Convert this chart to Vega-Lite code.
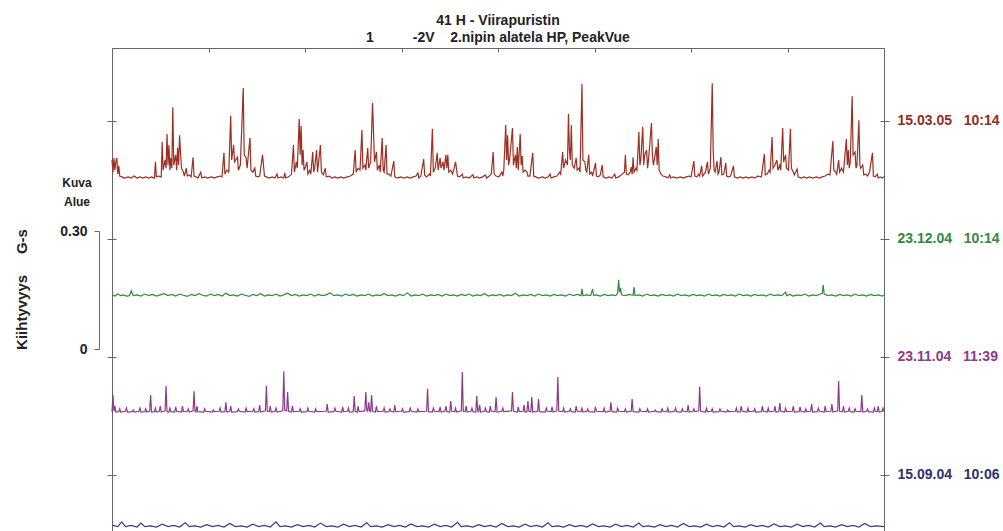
{
"$schema":"https://vega.github.io/schema/vega-lite/v6.json",
"width":772,"height":483,
"autosize":{"type":"none"},
"padding":{"left":112,"top":48,"right":119,"bottom":0},
"background":"white",
"title":{"text":"41 H - Viirapuristin","subtitle":"1\u00a0\u00a0\u00a0\u00a0\u00a0\u00a0\u00a0\u00a0\u00a0\u00a0-2V\u00a0\u00a0\u00a0\u00a02.nipin alatela HP, PeakVue","anchor":"middle","font":"Liberation Sans","fontSize":14,"fontWeight":"bold","color":"#222","subtitleFont":"Liberation Sans","subtitleFontSize":14,"subtitleFontWeight":"bold","subtitleColor":"#222","offset":3,"subtitlePadding":3},
"config":{"view":{"stroke":null},"axis":{"grid":false,"domainColor":"#666","tickColor":"#666","labelFont":"Liberation Sans","titleFont":"Liberation Sans","labelColor":"#222","titleColor":"#222"}},
"datasets":{
"dates":[{"k":0,"d":"15.09.04"},{"k":1,"d":"23.11.04"},{"k":2,"d":"23.12.04"},{"k":3,"d":"15.03.05"}],
"bar":[{"v":0},{"v":0.3}],
"red":[{"f":0,"g":0.051},{"f":1,"g":0.020},{"f":2,"g":0.056},{"f":3,"g":0.025},{"f":4,"g":0.046},{"f":5,"g":0.056},{"f":6,"g":0.015},{"f":7,"g":0.036},{"f":8,"g":0.010},{"f":10,"g":0.008},{"f":13,"g":0.005},{"f":17,"g":0.008},{"f":20,"g":0.005},{"f":23,"g":0.010},{"f":26,"g":0.005},{"f":29,"g":0.008},{"f":32,"g":0.005},{"f":35,"g":0.008},{"f":38,"g":0.005},{"f":41,"g":0.008},{"f":44,"g":0.005},{"f":45,"g":0.046},{"f":46,"g":0.008},{"f":48,"g":0.010},{"f":51,"g":0.008},{"f":52,"g":0.097},{"f":53,"g":0.025},{"f":55,"g":0.051},{"f":56,"g":0.030},{"f":57,"g":0.117},{"f":58,"g":0.038},{"f":59,"g":0.089},{"f":60,"g":0.025},{"f":61,"g":0.056},{"f":62,"g":0.030},{"f":63,"g":0.185},{"f":64,"g":0.038},{"f":66,"g":0.064},{"f":67,"g":0.025},{"f":68,"g":0.081},{"f":69,"g":0.038},{"f":70,"g":0.114},{"f":72,"g":0.030},{"f":74,"g":0.020},{"f":75,"g":0.010},{"f":77,"g":0.030},{"f":78,"g":0.010},{"f":80,"g":0.013},{"f":82,"g":0.008},{"f":84,"g":0.058},{"f":85,"g":0.010},{"f":87,"g":0.008},{"f":89,"g":0.005},{"f":92,"g":0.020},{"f":93,"g":0.005},{"f":96,"g":0.008},{"f":99,"g":0.005},{"f":103,"g":0.008},{"f":106,"g":0.005},{"f":109,"g":0.008},{"f":112,"g":0.010},{"f":114,"g":0.008},{"f":116,"g":0.069},{"f":117,"g":0.015},{"f":119,"g":0.025},{"f":121,"g":0.020},{"f":123,"g":0.163},{"f":124,"g":0.051},{"f":126,"g":0.089},{"f":127,"g":0.046},{"f":130,"g":0.058},{"f":131,"g":0.025},{"f":133,"g":0.038},{"f":136,"g":0.234},{"f":137,"g":0.064},{"f":139,"g":0.056},{"f":140,"g":0.030},{"f":143,"g":0.107},{"f":144,"g":0.025},{"f":146,"g":0.020},{"f":148,"g":0.030},{"f":149,"g":0.010},{"f":151,"g":0.008},{"f":153,"g":0.010},{"f":156,"g":0.064},{"f":158,"g":0.010},{"f":160,"g":0.008},{"f":163,"g":0.005},{"f":166,"g":0.008},{"f":169,"g":0.005},{"f":171,"g":0.015},{"f":172,"g":0.005},{"f":175,"g":0.008},{"f":178,"g":0.005},{"f":179,"g":0.018},{"f":180,"g":0.005},{"f":183,"g":0.008},{"f":186,"g":0.015},{"f":188,"g":0.089},{"f":189,"g":0.020},{"f":191,"g":0.046},{"f":192,"g":0.030},{"f":194,"g":0.155},{"f":195,"g":0.064},{"f":196,"g":0.137},{"f":197,"g":0.038},{"f":198,"g":0.076},{"f":199,"g":0.025},{"f":200,"g":0.030},{"f":202,"g":0.046},{"f":203,"g":0.015},{"f":205,"g":0.025},{"f":206,"g":0.015},{"f":208,"g":0.071},{"f":209,"g":0.020},{"f":210,"g":0.030},{"f":212,"g":0.076},{"f":213,"g":0.020},{"f":216,"g":0.089},{"f":217,"g":0.020},{"f":219,"g":0.013},{"f":221,"g":0.030},{"f":222,"g":0.008},{"f":225,"g":0.010},{"f":228,"g":0.005},{"f":231,"g":0.008},{"f":234,"g":0.005},{"f":237,"g":0.008},{"f":240,"g":0.005},{"f":244,"g":0.008},{"f":247,"g":0.010},{"f":250,"g":0.015},{"f":252,"g":0.076},{"f":253,"g":0.020},{"f":255,"g":0.030},{"f":257,"g":0.025},{"f":259,"g":0.127},{"f":260,"g":0.030},{"f":262,"g":0.038},{"f":263,"g":0.025},{"f":265,"g":0.081},{"f":266,"g":0.030},{"f":268,"g":0.046},{"f":270,"g":0.196},{"f":272,"g":0.046},{"f":274,"g":0.071},{"f":275,"g":0.025},{"f":277,"g":0.038},{"f":278,"g":0.020},{"f":280,"g":0.107},{"f":281,"g":0.025},{"f":282,"g":0.020},{"f":284,"g":0.089},{"f":285,"g":0.015},{"f":287,"g":0.015},{"f":289,"g":0.010},{"f":292,"g":0.048},{"f":293,"g":0.008},{"f":296,"g":0.005},{"f":299,"g":0.008},{"f":303,"g":0.005},{"f":306,"g":0.008},{"f":309,"g":0.005},{"f":312,"g":0.008},{"f":315,"g":0.010},{"f":317,"g":0.018},{"f":318,"g":0.005},{"f":320,"g":0.010},{"f":323,"g":0.053},{"f":324,"g":0.013},{"f":326,"g":0.008},{"f":329,"g":0.015},{"f":330,"g":0.010},{"f":332,"g":0.130},{"f":333,"g":0.020},{"f":335,"g":0.030},{"f":337,"g":0.069},{"f":338,"g":0.025},{"f":340,"g":0.056},{"f":341,"g":0.030},{"f":343,"g":0.046},{"f":344,"g":0.025},{"f":346,"g":0.064},{"f":347,"g":0.030},{"f":348,"g":0.064},{"f":349,"g":0.020},{"f":351,"g":0.025},{"f":353,"g":0.015},{"f":356,"g":0.046},{"f":358,"g":0.010},{"f":360,"g":0.008},{"f":363,"g":0.015},{"f":364,"g":0.005},{"f":367,"g":0.008},{"f":370,"g":0.005},{"f":374,"g":0.013},{"f":375,"g":0.005},{"f":378,"g":0.008},{"f":381,"g":0.005},{"f":384,"g":0.008},{"f":387,"g":0.013},{"f":388,"g":0.005},{"f":391,"g":0.010},{"f":393,"g":0.015},{"f":395,"g":0.071},{"f":396,"g":0.015},{"f":398,"g":0.010},{"f":401,"g":0.008},{"f":404,"g":0.020},{"f":405,"g":0.010},{"f":406,"g":0.025},{"f":408,"g":0.140},{"f":409,"g":0.051},{"f":410,"g":0.114},{"f":411,"g":0.038},{"f":412,"g":0.051},{"f":415,"g":0.132},{"f":416,"g":0.038},{"f":418,"g":0.064},{"f":419,"g":0.030},{"f":420,"g":0.084},{"f":421,"g":0.025},{"f":423,"g":0.117},{"f":424,"g":0.038},{"f":425,"g":0.061},{"f":426,"g":0.020},{"f":428,"g":0.025},{"f":430,"g":0.020},{"f":431,"g":0.010},{"f":433,"g":0.010},{"f":436,"g":0.069},{"f":437,"g":0.010},{"f":439,"g":0.008},{"f":442,"g":0.005},{"f":446,"g":0.008},{"f":449,"g":0.005},{"f":452,"g":0.008},{"f":454,"g":0.015},{"f":455,"g":0.005},{"f":458,"g":0.008},{"f":461,"g":0.010},{"f":464,"g":0.020},{"f":465,"g":0.015},{"f":467,"g":0.071},{"f":468,"g":0.030},{"f":470,"g":0.051},{"f":472,"g":0.038},{"f":473,"g":0.168},{"f":474,"g":0.076},{"f":475,"g":0.051},{"f":476,"g":0.140},{"f":477,"g":0.038},{"f":479,"g":0.030},{"f":481,"g":0.056},{"f":482,"g":0.025},{"f":484,"g":0.030},{"f":485,"g":0.020},{"f":487,"g":0.244},{"f":488,"g":0.051},{"f":490,"g":0.046},{"f":491,"g":0.025},{"f":492,"g":0.020},{"f":494,"g":0.064},{"f":495,"g":0.015},{"f":497,"g":0.020},{"f":498,"g":0.010},{"f":501,"g":0.043},{"f":502,"g":0.010},{"f":504,"g":0.008},{"f":506,"g":0.013},{"f":508,"g":0.038},{"f":509,"g":0.008},{"f":512,"g":0.005},{"f":515,"g":0.008},{"f":518,"g":0.005},{"f":521,"g":0.015},{"f":522,"g":0.005},{"f":525,"g":0.008},{"f":528,"g":0.013},{"f":531,"g":0.020},{"f":532,"g":0.064},{"f":533,"g":0.015},{"f":535,"g":0.013},{"f":537,"g":0.020},{"f":538,"g":0.033},{"f":539,"g":0.015},{"f":540,"g":0.058},{"f":541,"g":0.020},{"f":543,"g":0.030},{"f":544,"g":0.025},{"f":546,"g":0.122},{"f":547,"g":0.038},{"f":548,"g":0.051},{"f":550,"g":0.135},{"f":551,"g":0.038},{"f":552,"g":0.064},{"f":554,"g":0.076},{"f":555,"g":0.030},{"f":556,"g":0.051},{"f":559,"g":0.145},{"f":560,"g":0.064},{"f":561,"g":0.038},{"f":562,"g":0.051},{"f":564,"g":0.084},{"f":565,"g":0.038},{"f":566,"g":0.104},{"f":567,"g":0.025},{"f":569,"g":0.015},{"f":571,"g":0.010},{"f":574,"g":0.008},{"f":576,"g":0.005},{"f":578,"g":0.013},{"f":579,"g":0.005},{"f":582,"g":0.008},{"f":585,"g":0.005},{"f":589,"g":0.008},{"f":592,"g":0.005},{"f":595,"g":0.008},{"f":598,"g":0.010},{"f":600,"g":0.008},{"f":603,"g":0.048},{"f":604,"g":0.010},{"f":606,"g":0.008},{"f":608,"g":0.015},{"f":609,"g":0.010},{"f":611,"g":0.036},{"f":612,"g":0.010},{"f":615,"g":0.020},{"f":617,"g":0.046},{"f":618,"g":0.015},{"f":620,"g":0.030},{"f":622,"g":0.246},{"f":623,"g":0.076},{"f":624,"g":0.025},{"f":625,"g":0.020},{"f":627,"g":0.048},{"f":628,"g":0.015},{"f":629,"g":0.020},{"f":631,"g":0.058},{"f":632,"g":0.013},{"f":634,"g":0.015},{"f":636,"g":0.043},{"f":637,"g":0.010},{"f":639,"g":0.008},{"f":641,"g":0.010},{"f":644,"g":0.036},{"f":645,"g":0.008},{"f":648,"g":0.005},{"f":651,"g":0.008},{"f":654,"g":0.005},{"f":657,"g":0.008},{"f":660,"g":0.005},{"f":663,"g":0.008},{"f":666,"g":0.005},{"f":669,"g":0.010},{"f":673,"g":0.008},{"f":676,"g":0.066},{"f":677,"g":0.013},{"f":679,"g":0.015},{"f":681,"g":0.025},{"f":682,"g":0.020},{"f":684,"g":0.109},{"f":685,"g":0.030},{"f":687,"g":0.038},{"f":689,"g":0.051},{"f":690,"g":0.025},{"f":692,"g":0.038},{"f":693,"g":0.025},{"f":695,"g":0.132},{"f":696,"g":0.046},{"f":698,"g":0.064},{"f":699,"g":0.030},{"f":701,"g":0.025},{"f":703,"g":0.130},{"f":704,"g":0.030},{"f":706,"g":0.020},{"f":707,"g":0.013},{"f":710,"g":0.028},{"f":711,"g":0.008},{"f":714,"g":0.005},{"f":717,"g":0.008},{"f":720,"g":0.005},{"f":723,"g":0.008},{"f":726,"g":0.005},{"f":730,"g":0.008},{"f":733,"g":0.005},{"f":736,"g":0.008},{"f":739,"g":0.010},{"f":742,"g":0.015},{"f":744,"g":0.013},{"f":747,"g":0.099},{"f":748,"g":0.025},{"f":750,"g":0.020},{"f":751,"g":0.015},{"f":753,"g":0.051},{"f":754,"g":0.020},{"f":756,"g":0.030},{"f":758,"g":0.020},{"f":761,"g":0.104},{"f":762,"g":0.038},{"f":763,"g":0.076},{"f":764,"g":0.030},{"f":765,"g":0.046},{"f":767,"g":0.213},{"f":768,"g":0.064},{"f":770,"g":0.071},{"f":771,"g":0.030},{"f":772,"g":0.038},{"f":774,"g":0.152},{"f":775,"g":0.038},{"f":776,"g":0.030},{"f":778,"g":0.038},{"f":779,"g":0.013},{"f":781,"g":0.015},{"f":783,"g":0.010},{"f":785,"g":0.020},{"f":788,"g":0.069},{"f":789,"g":0.010},{"f":791,"g":0.008},{"f":793,"g":0.015},{"f":794,"g":0.005},{"f":796,"g":0.008},{"f":798,"g":0.005},{"f":800,"g":0.008}],
"green":[{"f":0,"g":0.008},{"f":3,"g":0.005},{"f":6,"g":0.010},{"f":9,"g":0.006},{"f":12,"g":0.008},{"f":15,"g":0.005},{"f":18,"g":0.006},{"f":20,"g":0.018},{"f":22,"g":0.006},{"f":26,"g":0.008},{"f":30,"g":0.005},{"f":34,"g":0.010},{"f":38,"g":0.006},{"f":42,"g":0.009},{"f":46,"g":0.005},{"f":50,"g":0.008},{"f":54,"g":0.011},{"f":58,"g":0.006},{"f":62,"g":0.009},{"f":66,"g":0.005},{"f":70,"g":0.010},{"f":74,"g":0.007},{"f":78,"g":0.004},{"f":82,"g":0.009},{"f":86,"g":0.006},{"f":90,"g":0.011},{"f":94,"g":0.007},{"f":98,"g":0.005},{"f":102,"g":0.010},{"f":106,"g":0.006},{"f":110,"g":0.009},{"f":114,"g":0.005},{"f":118,"g":0.012},{"f":122,"g":0.006},{"f":126,"g":0.008},{"f":130,"g":0.005},{"f":134,"g":0.010},{"f":138,"g":0.007},{"f":142,"g":0.004},{"f":146,"g":0.009},{"f":150,"g":0.006},{"f":154,"g":0.011},{"f":158,"g":0.005},{"f":162,"g":0.008},{"f":166,"g":0.006},{"f":170,"g":0.010},{"f":174,"g":0.005},{"f":178,"g":0.008},{"f":182,"g":0.012},{"f":186,"g":0.006},{"f":190,"g":0.009},{"f":194,"g":0.005},{"f":198,"g":0.008},{"f":202,"g":0.006},{"f":206,"g":0.010},{"f":210,"g":0.005},{"f":214,"g":0.009},{"f":218,"g":0.006},{"f":222,"g":0.008},{"f":226,"g":0.013},{"f":230,"g":0.006},{"f":234,"g":0.008},{"f":238,"g":0.005},{"f":242,"g":0.010},{"f":246,"g":0.006},{"f":250,"g":0.009},{"f":254,"g":0.005},{"f":258,"g":0.008},{"f":262,"g":0.006},{"f":266,"g":0.010},{"f":270,"g":0.005},{"f":274,"g":0.008},{"f":278,"g":0.006},{"f":282,"g":0.011},{"f":286,"g":0.006},{"f":290,"g":0.008},{"f":294,"g":0.005},{"f":298,"g":0.009},{"f":302,"g":0.006},{"f":306,"g":0.013},{"f":310,"g":0.005},{"f":314,"g":0.008},{"f":318,"g":0.006},{"f":322,"g":0.010},{"f":326,"g":0.005},{"f":330,"g":0.008},{"f":334,"g":0.006},{"f":338,"g":0.009},{"f":342,"g":0.005},{"f":346,"g":0.010},{"f":350,"g":0.006},{"f":354,"g":0.008},{"f":358,"g":0.005},{"f":362,"g":0.009},{"f":366,"g":0.006},{"f":370,"g":0.010},{"f":374,"g":0.005},{"f":378,"g":0.008},{"f":382,"g":0.006},{"f":386,"g":0.011},{"f":390,"g":0.005},{"f":394,"g":0.008},{"f":398,"g":0.006},{"f":402,"g":0.009},{"f":406,"g":0.005},{"f":410,"g":0.008},{"f":414,"g":0.006},{"f":418,"g":0.012},{"f":422,"g":0.005},{"f":426,"g":0.008},{"f":430,"g":0.006},{"f":434,"g":0.009},{"f":438,"g":0.005},{"f":442,"g":0.010},{"f":446,"g":0.006},{"f":450,"g":0.008},{"f":454,"g":0.005},{"f":458,"g":0.009},{"f":462,"g":0.006},{"f":466,"g":0.008},{"f":470,"g":0.005},{"f":474,"g":0.010},{"f":478,"g":0.006},{"f":482,"g":0.009},{"f":486,"g":0.006},{"f":487,"g":0.023},{"f":488,"g":0.006},{"f":492,"g":0.008},{"f":496,"g":0.006},{"f":498,"g":0.023},{"f":499,"g":0.007},{"f":502,"g":0.008},{"f":506,"g":0.005},{"f":510,"g":0.009},{"f":514,"g":0.006},{"f":518,"g":0.008},{"f":522,"g":0.006},{"f":524,"g":0.012},{"f":525,"g":0.046},{"f":526,"g":0.015},{"f":527,"g":0.026},{"f":528,"g":0.008},{"f":532,"g":0.006},{"f":536,"g":0.009},{"f":540,"g":0.007},{"f":541,"g":0.028},{"f":542,"g":0.006},{"f":546,"g":0.008},{"f":550,"g":0.005},{"f":554,"g":0.010},{"f":558,"g":0.006},{"f":562,"g":0.008},{"f":566,"g":0.005},{"f":570,"g":0.009},{"f":574,"g":0.006},{"f":578,"g":0.008},{"f":582,"g":0.005},{"f":586,"g":0.010},{"f":590,"g":0.006},{"f":594,"g":0.008},{"f":598,"g":0.005},{"f":602,"g":0.009},{"f":606,"g":0.006},{"f":610,"g":0.008},{"f":614,"g":0.005},{"f":618,"g":0.010},{"f":622,"g":0.006},{"f":626,"g":0.008},{"f":630,"g":0.005},{"f":634,"g":0.009},{"f":638,"g":0.006},{"f":642,"g":0.008},{"f":646,"g":0.005},{"f":650,"g":0.010},{"f":654,"g":0.006},{"f":658,"g":0.008},{"f":662,"g":0.005},{"f":666,"g":0.009},{"f":670,"g":0.006},{"f":674,"g":0.008},{"f":678,"g":0.005},{"f":682,"g":0.010},{"f":686,"g":0.006},{"f":690,"g":0.008},{"f":694,"g":0.006},{"f":698,"g":0.015},{"f":699,"g":0.006},{"f":702,"g":0.009},{"f":706,"g":0.005},{"f":710,"g":0.008},{"f":714,"g":0.006},{"f":718,"g":0.010},{"f":722,"g":0.005},{"f":726,"g":0.008},{"f":730,"g":0.006},{"f":734,"g":0.010},{"f":736,"g":0.012},{"f":737,"g":0.033},{"f":738,"g":0.010},{"f":742,"g":0.006},{"f":746,"g":0.008},{"f":750,"g":0.005},{"f":754,"g":0.009},{"f":758,"g":0.006},{"f":762,"g":0.008},{"f":766,"g":0.005},{"f":770,"g":0.010},{"f":774,"g":0.006},{"f":778,"g":0.008},{"f":782,"g":0.005},{"f":786,"g":0.009},{"f":790,"g":0.006},{"f":794,"g":0.008},{"f":798,"g":0.005},{"f":800,"g":0.007}],
"purple":[{"f":0,"g":0.006},{"f":1,"g":0.048},{"f":2,"g":0.007},{"f":3,"g":0.020},{"f":4,"g":0.005},{"f":7,"g":0.006},{"f":8,"g":0.013},{"f":9,"g":0.005},{"f":14,"g":0.007},{"f":15,"g":0.015},{"f":16,"g":0.005},{"f":21,"g":0.006},{"f":22,"g":0.010},{"f":23,"g":0.005},{"f":28,"g":0.007},{"f":29,"g":0.015},{"f":30,"g":0.005},{"f":34,"g":0.006},{"f":35,"g":0.013},{"f":36,"g":0.005},{"f":39,"g":0.007},{"f":40,"g":0.048},{"f":41,"g":0.005},{"f":44,"g":0.006},{"f":45,"g":0.015},{"f":46,"g":0.005},{"f":49,"g":0.007},{"f":50,"g":0.020},{"f":51,"g":0.005},{"f":55,"g":0.008},{"f":56,"g":0.071},{"f":57,"g":0.006},{"f":59,"g":0.005},{"f":60,"g":0.015},{"f":61,"g":0.006},{"f":65,"g":0.005},{"f":66,"g":0.018},{"f":67,"g":0.007},{"f":72,"g":0.005},{"f":73,"g":0.020},{"f":74,"g":0.006},{"f":78,"g":0.007},{"f":79,"g":0.013},{"f":80,"g":0.005},{"f":84,"g":0.008},{"f":85,"g":0.058},{"f":86,"g":0.007},{"f":87,"g":0.005},{"f":88,"g":0.020},{"f":89,"g":0.006},{"f":95,"g":0.005},{"f":96,"g":0.013},{"f":97,"g":0.007},{"f":104,"g":0.005},{"f":105,"g":0.010},{"f":106,"g":0.006},{"f":111,"g":0.007},{"f":112,"g":0.015},{"f":113,"g":0.005},{"f":117,"g":0.006},{"f":118,"g":0.030},{"f":119,"g":0.005},{"f":122,"g":0.007},{"f":123,"g":0.020},{"f":124,"g":0.005},{"f":130,"g":0.006},{"f":131,"g":0.013},{"f":132,"g":0.007},{"f":138,"g":0.005},{"f":139,"g":0.015},{"f":140,"g":0.006},{"f":146,"g":0.007},{"f":147,"g":0.013},{"f":148,"g":0.005},{"f":152,"g":0.006},{"f":153,"g":0.023},{"f":154,"g":0.005},{"f":159,"g":0.008},{"f":160,"g":0.071},{"f":161,"g":0.007},{"f":163,"g":0.006},{"f":164,"g":0.020},{"f":165,"g":0.005},{"f":169,"g":0.007},{"f":170,"g":0.015},{"f":171,"g":0.005},{"f":177,"g":0.008},{"f":178,"g":0.109},{"f":179,"g":0.010},{"f":181,"g":0.008},{"f":182,"g":0.056},{"f":183,"g":0.007},{"f":186,"g":0.005},{"f":187,"g":0.020},{"f":188,"g":0.006},{"f":194,"g":0.007},{"f":195,"g":0.013},{"f":196,"g":0.005},{"f":202,"g":0.006},{"f":203,"g":0.015},{"f":204,"g":0.007},{"f":210,"g":0.005},{"f":211,"g":0.013},{"f":212,"g":0.006},{"f":222,"g":0.007},{"f":223,"g":0.025},{"f":224,"g":0.005},{"f":230,"g":0.006},{"f":231,"g":0.015},{"f":232,"g":0.007},{"f":238,"g":0.005},{"f":239,"g":0.018},{"f":240,"g":0.006},{"f":244,"g":0.007},{"f":245,"g":0.015},{"f":246,"g":0.005},{"f":250,"g":0.006},{"f":251,"g":0.046},{"f":252,"g":0.007},{"f":254,"g":0.005},{"f":255,"g":0.020},{"f":256,"g":0.006},{"f":262,"g":0.008},{"f":263,"g":0.056},{"f":264,"g":0.010},{"f":265,"g":0.007},{"f":266,"g":0.030},{"f":267,"g":0.008},{"f":268,"g":0.006},{"f":269,"g":0.048},{"f":270,"g":0.007},{"f":273,"g":0.005},{"f":274,"g":0.020},{"f":275,"g":0.006},{"f":281,"g":0.007},{"f":282,"g":0.015},{"f":283,"g":0.005},{"f":287,"g":0.006},{"f":288,"g":0.013},{"f":289,"g":0.007},{"f":292,"g":0.005},{"f":293,"g":0.023},{"f":294,"g":0.006},{"f":300,"g":0.007},{"f":301,"g":0.013},{"f":302,"g":0.005},{"f":308,"g":0.006},{"f":309,"g":0.015},{"f":310,"g":0.007},{"f":316,"g":0.005},{"f":317,"g":0.013},{"f":318,"g":0.006},{"f":326,"g":0.007},{"f":327,"g":0.064},{"f":328,"g":0.006},{"f":332,"g":0.005},{"f":333,"g":0.015},{"f":334,"g":0.007},{"f":339,"g":0.006},{"f":340,"g":0.018},{"f":341,"g":0.005},{"f":345,"g":0.007},{"f":346,"g":0.020},{"f":347,"g":0.006},{"f":350,"g":0.005},{"f":351,"g":0.033},{"f":352,"g":0.007},{"f":355,"g":0.006},{"f":356,"g":0.015},{"f":357,"g":0.005},{"f":362,"g":0.008},{"f":363,"g":0.107},{"f":364,"g":0.007},{"f":366,"g":0.006},{"f":367,"g":0.020},{"f":368,"g":0.005},{"f":372,"g":0.007},{"f":373,"g":0.015},{"f":374,"g":0.006},{"f":377,"g":0.005},{"f":378,"g":0.046},{"f":379,"g":0.008},{"f":380,"g":0.006},{"f":381,"g":0.023},{"f":382,"g":0.005},{"f":386,"g":0.007},{"f":387,"g":0.015},{"f":388,"g":0.006},{"f":391,"g":0.005},{"f":392,"g":0.020},{"f":393,"g":0.007},{"f":397,"g":0.006},{"f":398,"g":0.043},{"f":399,"g":0.005},{"f":404,"g":0.007},{"f":405,"g":0.015},{"f":406,"g":0.006},{"f":414,"g":0.008},{"f":415,"g":0.056},{"f":416,"g":0.007},{"f":420,"g":0.005},{"f":421,"g":0.018},{"f":422,"g":0.006},{"f":426,"g":0.007},{"f":427,"g":0.023},{"f":428,"g":0.005},{"f":430,"g":0.006},{"f":431,"g":0.033},{"f":432,"g":0.007},{"f":434,"g":0.006},{"f":435,"g":0.043},{"f":436,"g":0.005},{"f":441,"g":0.007},{"f":442,"g":0.038},{"f":443,"g":0.006},{"f":449,"g":0.005},{"f":450,"g":0.015},{"f":451,"g":0.007},{"f":455,"g":0.006},{"f":456,"g":0.018},{"f":457,"g":0.005},{"f":461,"g":0.008},{"f":462,"g":0.094},{"f":463,"g":0.007},{"f":467,"g":0.006},{"f":468,"g":0.015},{"f":469,"g":0.005},{"f":474,"g":0.007},{"f":475,"g":0.013},{"f":476,"g":0.006},{"f":480,"g":0.005},{"f":481,"g":0.020},{"f":482,"g":0.007},{"f":486,"g":0.006},{"f":487,"g":0.015},{"f":488,"g":0.005},{"f":492,"g":0.007},{"f":493,"g":0.013},{"f":494,"g":0.006},{"f":500,"g":0.005},{"f":501,"g":0.018},{"f":502,"g":0.007},{"f":509,"g":0.006},{"f":510,"g":0.015},{"f":511,"g":0.005},{"f":516,"g":0.007},{"f":517,"g":0.030},{"f":518,"g":0.006},{"f":523,"g":0.005},{"f":524,"g":0.015},{"f":525,"g":0.007},{"f":531,"g":0.006},{"f":532,"g":0.013},{"f":533,"g":0.005},{"f":538,"g":0.007},{"f":539,"g":0.038},{"f":540,"g":0.006},{"f":546,"g":0.005},{"f":547,"g":0.013},{"f":548,"g":0.007},{"f":554,"g":0.006},{"f":555,"g":0.013},{"f":556,"g":0.005},{"f":562,"g":0.007},{"f":563,"g":0.010},{"f":564,"g":0.006},{"f":569,"g":0.005},{"f":570,"g":0.013},{"f":571,"g":0.007},{"f":575,"g":0.006},{"f":576,"g":0.015},{"f":577,"g":0.005},{"f":583,"g":0.007},{"f":584,"g":0.015},{"f":585,"g":0.006},{"f":590,"g":0.005},{"f":591,"g":0.013},{"f":592,"g":0.007},{"f":596,"g":0.006},{"f":597,"g":0.023},{"f":598,"g":0.005},{"f":602,"g":0.007},{"f":603,"g":0.013},{"f":604,"g":0.006},{"f":608,"g":0.008},{"f":609,"g":0.069},{"f":610,"g":0.007},{"f":615,"g":0.005},{"f":616,"g":0.015},{"f":617,"g":0.006},{"f":621,"g":0.007},{"f":622,"g":0.013},{"f":623,"g":0.005},{"f":629,"g":0.006},{"f":630,"g":0.013},{"f":631,"g":0.007},{"f":637,"g":0.005},{"f":638,"g":0.010},{"f":639,"g":0.006},{"f":646,"g":0.007},{"f":647,"g":0.015},{"f":648,"g":0.005},{"f":651,"g":0.006},{"f":652,"g":0.020},{"f":653,"g":0.007},{"f":658,"g":0.005},{"f":659,"g":0.015},{"f":660,"g":0.006},{"f":665,"g":0.007},{"f":666,"g":0.013},{"f":667,"g":0.005},{"f":673,"g":0.006},{"f":674,"g":0.020},{"f":675,"g":0.007},{"f":679,"g":0.005},{"f":680,"g":0.015},{"f":681,"g":0.006},{"f":686,"g":0.007},{"f":687,"g":0.020},{"f":688,"g":0.005},{"f":691,"g":0.006},{"f":692,"g":0.028},{"f":693,"g":0.007},{"f":697,"g":0.005},{"f":698,"g":0.015},{"f":699,"g":0.006},{"f":705,"g":0.007},{"f":706,"g":0.020},{"f":707,"g":0.005},{"f":712,"g":0.006},{"f":713,"g":0.018},{"f":714,"g":0.007},{"f":718,"g":0.005},{"f":719,"g":0.013},{"f":720,"g":0.006},{"f":724,"g":0.007},{"f":725,"g":0.025},{"f":726,"g":0.005},{"f":731,"g":0.006},{"f":732,"g":0.015},{"f":733,"g":0.007},{"f":738,"g":0.005},{"f":739,"g":0.020},{"f":740,"g":0.006},{"f":745,"g":0.007},{"f":746,"g":0.025},{"f":747,"g":0.005},{"f":752,"g":0.008},{"f":753,"g":0.084},{"f":754,"g":0.007},{"f":757,"g":0.006},{"f":758,"g":0.020},{"f":759,"g":0.005},{"f":763,"g":0.007},{"f":764,"g":0.015},{"f":765,"g":0.006},{"f":769,"g":0.005},{"f":770,"g":0.013},{"f":771,"g":0.007},{"f":776,"g":0.006},{"f":777,"g":0.048},{"f":778,"g":0.005},{"f":782,"g":0.007},{"f":783,"g":0.013},{"f":784,"g":0.006},{"f":789,"g":0.005},{"f":790,"g":0.015},{"f":791,"g":0.007},{"f":793,"g":0.006},{"f":794,"g":0.020},{"f":795,"g":0.005},{"f":798,"g":0.007},{"f":799,"g":0.015},{"f":800,"g":0.006}],
"blue":[{"f":0,"g":0.010},{"f":6,"g":0.006},{"f":10,"g":0.018},{"f":14,"g":0.006},{"f":20,"g":0.009},{"f":26,"g":0.005},{"f":30,"g":0.015},{"f":34,"g":0.006},{"f":40,"g":0.008},{"f":46,"g":0.005},{"f":52,"g":0.012},{"f":58,"g":0.006},{"f":64,"g":0.009},{"f":70,"g":0.005},{"f":76,"g":0.016},{"f":80,"g":0.006},{"f":86,"g":0.008},{"f":92,"g":0.005},{"f":98,"g":0.011},{"f":104,"g":0.006},{"f":110,"g":0.009},{"f":116,"g":0.005},{"f":122,"g":0.014},{"f":128,"g":0.006},{"f":134,"g":0.008},{"f":140,"g":0.005},{"f":146,"g":0.012},{"f":152,"g":0.006},{"f":158,"g":0.009},{"f":164,"g":0.005},{"f":170,"g":0.018},{"f":174,"g":0.006},{"f":180,"g":0.008},{"f":186,"g":0.005},{"f":192,"g":0.011},{"f":198,"g":0.006},{"f":204,"g":0.009},{"f":210,"g":0.005},{"f":216,"g":0.015},{"f":222,"g":0.006},{"f":228,"g":0.008},{"f":234,"g":0.005},{"f":240,"g":0.012},{"f":246,"g":0.006},{"f":252,"g":0.009},{"f":258,"g":0.005},{"f":264,"g":0.016},{"f":268,"g":0.006},{"f":274,"g":0.008},{"f":280,"g":0.005},{"f":286,"g":0.011},{"f":292,"g":0.006},{"f":298,"g":0.009},{"f":304,"g":0.005},{"f":310,"g":0.013},{"f":316,"g":0.006},{"f":322,"g":0.008},{"f":328,"g":0.005},{"f":334,"g":0.012},{"f":340,"g":0.006},{"f":346,"g":0.009},{"f":352,"g":0.005},{"f":358,"g":0.017},{"f":362,"g":0.006},{"f":368,"g":0.008},{"f":374,"g":0.005},{"f":380,"g":0.011},{"f":386,"g":0.006},{"f":392,"g":0.009},{"f":398,"g":0.005},{"f":404,"g":0.014},{"f":410,"g":0.006},{"f":416,"g":0.008},{"f":422,"g":0.005},{"f":428,"g":0.012},{"f":434,"g":0.006},{"f":440,"g":0.009},{"f":446,"g":0.005},{"f":452,"g":0.016},{"f":456,"g":0.006},{"f":462,"g":0.008},{"f":468,"g":0.005},{"f":474,"g":0.011},{"f":480,"g":0.006},{"f":486,"g":0.009},{"f":492,"g":0.005},{"f":498,"g":0.013},{"f":504,"g":0.006},{"f":510,"g":0.008},{"f":516,"g":0.005},{"f":522,"g":0.012},{"f":528,"g":0.006},{"f":534,"g":0.009},{"f":540,"g":0.005},{"f":546,"g":0.015},{"f":550,"g":0.006},{"f":556,"g":0.008},{"f":562,"g":0.005},{"f":568,"g":0.011},{"f":574,"g":0.006},{"f":580,"g":0.009},{"f":586,"g":0.005},{"f":592,"g":0.014},{"f":598,"g":0.006},{"f":604,"g":0.008},{"f":610,"g":0.005},{"f":616,"g":0.012},{"f":622,"g":0.006},{"f":628,"g":0.009},{"f":634,"g":0.005},{"f":640,"g":0.016},{"f":644,"g":0.006},{"f":650,"g":0.008},{"f":656,"g":0.005},{"f":662,"g":0.011},{"f":668,"g":0.006},{"f":674,"g":0.009},{"f":680,"g":0.005},{"f":686,"g":0.013},{"f":692,"g":0.006},{"f":698,"g":0.008},{"f":704,"g":0.005},{"f":710,"g":0.012},{"f":716,"g":0.006},{"f":722,"g":0.009},{"f":728,"g":0.005},{"f":734,"g":0.015},{"f":738,"g":0.006},{"f":744,"g":0.008},{"f":750,"g":0.005},{"f":756,"g":0.011},{"f":762,"g":0.006},{"f":768,"g":0.009},{"f":774,"g":0.005},{"f":780,"g":0.014},{"f":786,"g":0.006},{"f":792,"g":0.008},{"f":800,"g":0.006}]
},
"layer":[
{"data":{"name":"dates"},"mark":{"type":"rule","opacity":0},"encoding":{"y":{"field":"k","type":"quantitative","scale":{"domain":[-0.4746,3.6186],"nice":false,"zero":false},"axis":{"orient":"left","values":[0,1,2,3],"labels":false,"tickSize":5,"title":["Kuva","Alue"],"titleAngle":0,"titleX":-35.5,"titleY":138,"titleAlign":"center","titleBaseline":"alphabetic","titleFontSize":12,"titleFontWeight":"bold","titleLineHeight":19}}}},
{"data":{"name":"dates"},"mark":{"type":"rule","opacity":0},"encoding":{"y":{"field":"k","type":"quantitative","scale":{"domain":[-0.4746,3.6186],"nice":false,"zero":false},"axis":{"orient":"left","values":[0,1,2,3],"labels":false,"domain":false,"tickSize":-4,"title":null}}}},
{"data":{"name":"dates"},"mark":{"type":"rule","opacity":0},"encoding":{"y":{"field":"k","type":"quantitative","scale":{"domain":[-0.4746,3.6186],"nice":false,"zero":false},"axis":{"orient":"right","values":[0,1,2,3],"tickSize":5,"labelPadding":8,"labelFontSize":14,"labelFontWeight":"bold","labelBaseline":"middle","labelExpr":"datum.value==3?'15.03.05\u00a0\u00a0\u00a010:14':datum.value==2?'23.12.04\u00a0\u00a0\u00a010:14':datum.value==1?'23.11.04\u00a0\u00a0\u00a011:39':'15.09.04\u00a0\u00a0\u00a010:06'","labelColor":{"expr":"datum.value==3?'#8e2d25':datum.value==2?'#2f8a3c':datum.value==1?'#8c3b8c':'#2f3070'"},"title":null}}}},
{"data":{"name":"dates"},"mark":{"type":"rule","opacity":0},"encoding":{"y":{"field":"k","type":"quantitative","scale":{"domain":[-0.4746,3.6186],"nice":false,"zero":false},"axis":{"orient":"right","values":[0,1,2,3],"labels":false,"domain":false,"tickSize":-4,"title":null}}}},
{"data":{"name":"bar"},"mark":{"type":"rule","opacity":0},"encoding":{"y":{"field":"v","type":"quantitative","scale":{"domain":[0,0.3],"range":[301,183],"nice":false,"zero":false},"axis":{"orient":"left","offset":13,"values":[0,0.3],"tickSize":5,"labelPadding":7,"labelFontSize":14,"labelFontWeight":"bold","labelBaseline":"middle","labelExpr":"datum.value==0?'0':'0.30'","title":"Kiihtyvyys\u00a0\u00a0\u00a0\u00a0\u00a0G-s","titleX":-78,"titleY":241,"titleAngle":270,"titleAlign":"center","titleBaseline":"middle","titleFontSize":15,"titleFontWeight":"bold"}}}},
{"data":{"name":"red"},"mark":{"type":"line","color":"#9c2f22","strokeWidth":1.2},"encoding":{"x":{"field":"f","type":"quantitative","scale":{"domain":[0,800],"nice":false,"zero":false},"axis":{"orient":"top","values":[0,100,200,300,400,500,600,700,800],"labels":false,"tickSize":-4,"title":null}},"y":{"field":"g","type":"quantitative","scale":{"domain":[-0.8924,0.3356],"nice":false,"zero":false},"axis":null}}},
{"data":{"name":"green"},"mark":{"type":"line","color":"#2f8a3c","strokeWidth":1.2},"encoding":{"x":{"field":"f","type":"quantitative","scale":{"domain":[0,800],"nice":false,"zero":false},"axis":{"orient":"top","values":[0,100,200,300,400,500,600,700,800],"labels":false,"tickSize":-4,"title":null}},"y":{"field":"g","type":"quantitative","scale":{"domain":[-0.5924,0.6356],"nice":false,"zero":false},"axis":null}}},
{"data":{"name":"purple"},"mark":{"type":"line","color":"#8c3b8c","strokeWidth":1.2},"encoding":{"x":{"field":"f","type":"quantitative","scale":{"domain":[0,800],"nice":false,"zero":false},"axis":{"orient":"top","values":[0,100,200,300,400,500,600,700,800],"labels":false,"tickSize":-4,"title":null}},"y":{"field":"g","type":"quantitative","scale":{"domain":[-0.2974,0.9305],"nice":false,"zero":false},"axis":null}}},
{"data":{"name":"blue"},"mark":{"type":"line","color":"#3a3c80","strokeWidth":1.2},"encoding":{"x":{"field":"f","type":"quantitative","scale":{"domain":[0,800],"nice":false,"zero":false},"axis":{"orient":"top","values":[0,100,200,300,400,500,600,700,800],"labels":false,"tickSize":-4,"title":null}},"y":{"field":"g","type":"quantitative","scale":{"domain":[-0.0051,1.2229],"nice":false,"zero":false},"axis":null}}}
],
"resolve":{"scale":{"y":"independent"},"axis":{"y":"independent"}}
}
